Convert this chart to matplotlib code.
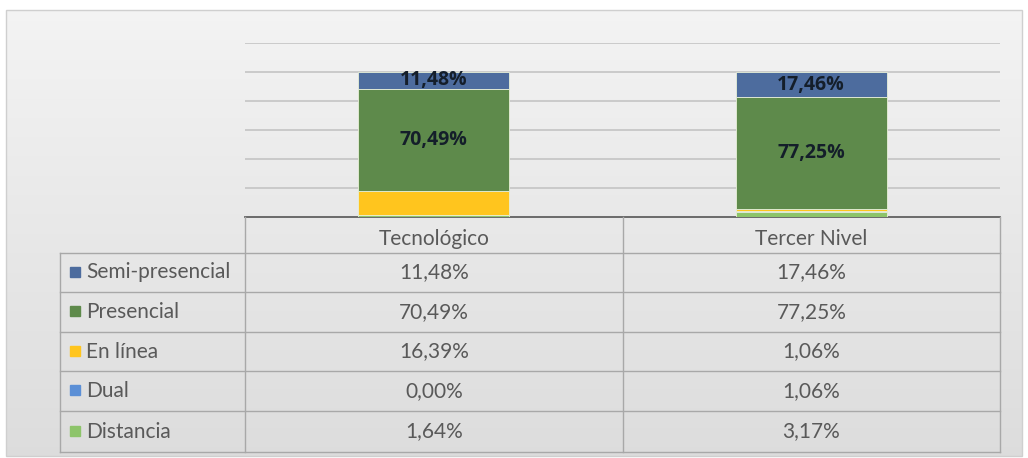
import numpy as np
import matplotlib
matplotlib.use('Agg')
import matplotlib.pyplot as plt
from matplotlib.patches import Rectangle

# ── data ───────────────────────────────────────────────────────────────────
categories = ["Tecnológico", "Tercer Nivel"]
series = ["Semi-presencial", "Presencial", "En línea", "Dual", "Distancia"]
semi_presencial = [11.48, 17.46]
presencial      = [70.49, 77.25]
en_linea        = [16.39, 1.06]
dual            = [0.00, 1.06]
distancia       = [1.64, 3.17]
labelled = ["Semi-presencial", "Presencial"]   # only these carry data labels

colors = {
    "Semi-presencial": "#4D6C9E",
    "Presencial":      "#5E8A4B",
    "En línea":        "#FFC51E",
    "Dual":            "#5B8FD6",
    "Distancia":       "#8DC46A",
}
values = {
    "Semi-presencial": semi_presencial,
    "Presencial": presencial,
    "En línea": en_linea,
    "Dual": dual,
    "Distancia": distancia,
}

def fmt(v):
    return f"{v:.2f}%".replace(".", ",")

plt.rcParams['font.family'] = ['Lato', 'DejaVu Sans']

W, H = 1028, 458
fig = plt.figure(figsize=(W / 100, H / 100), dpi=100)
fig.patch.set_facecolor("white")

# ── background (pixel coords) ──────────────────────────────────────────────
bg = fig.add_axes([0, 0, 1, 1])
bg.set_xlim(0, W)
bg.set_ylim(H, 0)
bg.axis('off')
grad = np.linspace(0.955, 0.865, 256).reshape(-1, 1)
bg.imshow(np.dstack([grad, grad, grad]), extent=(6, 1022, 456, 10), aspect='auto', zorder=0)
bg.add_patch(Rectangle((6, 10), 1016, 446, fill=False, ec="#CFCFCF", lw=1, zorder=1))

# ── bar axes ───────────────────────────────────────────────────────────────
x0, x1 = 245, 1000
y_top, y_base = 43, 217
ax = fig.add_axes([x0 / W, (H - y_base) / H, (x1 - x0) / W, (y_base - y_top) / H])
ax.patch.set_alpha(0)
ax.set_xlim(-0.5, 1.5)
ax.set_ylim(0, 120)
ax.set_yticks(np.arange(20, 121, 20))
ax.yaxis.grid(True, color="#C4C4C4", lw=1.2)
ax.set_axisbelow(True)
ax.tick_params(length=0, labelleft=False, labelbottom=False)
for s in ax.spines.values():
    s.set_visible(False)

x = np.arange(len(categories))
bottom = np.zeros(len(categories))
for name in reversed(series):
    vals = np.array(values[name])
    bars = ax.bar(x, vals, 0.4, bottom=bottom, color=colors[name],
                  edgecolor="#E8F0D8", linewidth=0.6, zorder=2)
    if name in labelled:
        for b, v, bt in zip(bars, vals, bottom):
            ax.text(b.get_x() + b.get_width() / 2, bt + v / 2, fmt(v),
                    ha='center', va='center', fontsize=14, fontweight='bold',
                    family=['Open Sans', 'DejaVu Sans'],
                    color="#141E2A", zorder=3)
    bottom += vals

# ── data table (pixel coords on bg) ───────────────────────────────────────
line_c = "#A8A8A8"
tbl_left = 60
col_edges = [245, 623, 1000]
row_edges = [253, 292, 332, 371, 411, 452]

bg.plot([x0, x1], [y_base, y_base], color="#606060", lw=1.3, zorder=3)
for yy in row_edges:
    bg.plot([tbl_left, x1], [yy, yy], color=line_c, lw=1, zorder=3)
bg.plot([tbl_left, tbl_left], [row_edges[0], row_edges[-1]], color=line_c, lw=1, zorder=3)
for xx in col_edges:
    bg.plot([xx, xx], [y_base, row_edges[-1]], color=line_c, lw=1, zorder=3)

txt_c = "#595959"
fs = 15
for i, cat in enumerate(categories):
    cx = (col_edges[i] + col_edges[i + 1]) / 2
    bg.text(cx, (y_base + row_edges[0]) / 2 + 4, cat, ha='center', va='center',
            fontsize=fs, color=txt_c, zorder=4)

for r, name in enumerate(series):
    cy = (row_edges[r] + row_edges[r + 1]) / 2
    bg.add_patch(Rectangle((70, cy - 6), 10, 10, color=colors[name], zorder=4))
    bg.text(86, cy, name, ha='left', va='center', fontsize=fs, color=txt_c, zorder=4)
    for i in range(len(categories)):
        cx = (col_edges[i] + col_edges[i + 1]) / 2
        bg.text(cx, cy, fmt(values[name][i]), ha='center', va='center',
                fontsize=fs, color=txt_c, zorder=4)

fig.savefig("out.png", dpi=100)
